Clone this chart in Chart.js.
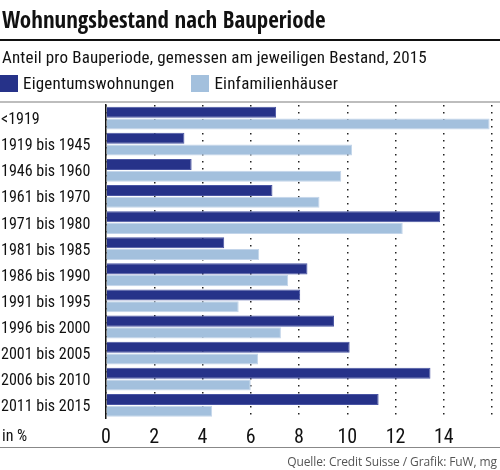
<!DOCTYPE html>
<html>
<head>
<meta charset="utf-8">
<script src="https://cdn.jsdelivr.net/npm/chart.js@4"></script>
<style>
  body { margin: 0; width: 500px; height: 470px; position: relative; background: #fff; overflow: hidden;
         font-family: "Roboto Condensed", "DejaVu Sans Condensed", sans-serif; color: #111; }
  canvas { position: absolute; left: 0; top: 0; }
  #title { position: absolute; left: 2px; top: 3px; font-family: "Open Sans Condensed", "Roboto Condensed", sans-serif;
           font-weight: bold; font-size: 23px; white-space: nowrap; }
  #rule { position: absolute; left: 0; top: 39px; width: 500px; height: 2px; background: #111; }
  #sub { position: absolute; left: 2px; top: 47px; font-size: 17px; letter-spacing: 0.15px; white-space: nowrap; }
  #legend { position: absolute; left: 0; top: 73px; font-size: 17px; letter-spacing: 0.2px; display: flex; white-space: nowrap; }
  .item { display: flex; align-items: center; margin-right: 17px; }
  .box { width: 18px; height: 17px; margin-right: 5px; }
  #foot { position: absolute; left: 0; top: 447px; width: 500px; height: 1px; background: #888; }
  #src { position: absolute; right: 3px; top: 453px; font-family: "Open Sans", sans-serif;
         font-size: 12px; letter-spacing: -0.1px; color: #555; white-space: nowrap; }
</style>
</head>
<body>
<canvas id="chart" width="500" height="470"></canvas>
<div id="title">Wohnungsbestand nach Bauperiode</div>
<div id="rule"></div>
<div id="sub">Anteil pro Bauperiode, gemessen am jeweiligen Bestand, 2015</div>
<div id="legend"></div>
<div id="foot"></div>
<div id="src">Quelle: Credit Suisse / Grafik: FuW, mg</div>
<script>
const categories = [
  '<1919', '1919 bis 1945', '1946 bis 1960', '1961 bis 1970', '1971 bis 1980', '1981 bis 1985',
  '1986 bis 1990', '1991 bis 1995', '1996 bis 2000', '2001 bis 2005', '2006 bis 2010', '2011 bis 2015'
]
const eigentumswohnungen = [7.05, 3.25, 3.55, 6.9, 13.85, 4.9, 8.35, 8.05, 9.45, 10.1, 13.45, 11.3]
const einfamilienhaeuser = [15.9, 10.2, 9.75, 8.85, 12.3, 6.35, 7.55, 5.5, 7.25, 6.3, 6.0, 4.4]
const seriesNames = ['Eigentumswohnungen', 'Einfamilienhäuser']
const xTickLabels = [0, 2, 4, 6, 8, 10, 12, 14]

const dark = '#263289'
const light = '#a3c0dd'
const font = '"Roboto Condensed", "DejaVu Sans Condensed", sans-serif'

// legend in html
const legend = document.getElementById('legend')
seriesNames.forEach((name, i) => {
  const item = document.createElement('div')
  item.className = 'item'
  item.innerHTML = '<span class="box" style="background:' + [dark, light][i] + '"></span>' + name
  legend.appendChild(item)
})

// grey line above plot + "in %" next to the ticks
const extras = {
  id: 'extras',
  beforeDraw(chart) {
    const { ctx, chartArea } = chart
    ctx.save()
    ctx.fillStyle = '#bdbdbd'
    ctx.fillRect(0, chartArea.top - 4, chart.width, 2)
    ctx.restore()
  },
  afterDraw(chart) {
    const { ctx } = chart
    const x = chart.scales.x
    ctx.save()
    ctx.font = '16px ' + font
    ctx.fillStyle = '#111'
    ctx.textBaseline = 'middle'
    ctx.fillText('in %', 2, x.top + 19)
    ctx.restore()
  }
}

new Chart(document.getElementById('chart').getContext('2d'), {
  type: 'bar',
  data: {
    labels: categories,
    datasets: [
      { label: seriesNames[0], data: eigentumswohnungen, backgroundColor: dark, borderColor: '#4a55a3', borderWidth: 1 },
      { label: seriesNames[1], data: einfamilienhaeuser, backgroundColor: light, borderColor: '#c3d5ea', borderWidth: 1 }
    ]
  },
  options: {
    indexAxis: 'y',
    responsive: false,
    animation: false,
    categoryPercentage: 0.9,
    barPercentage: 0.94,
    layout: { padding: { top: 105, left: 1, right: 0.7, bottom: 21.6 } },
    plugins: { legend: { display: false }, tooltip: { enabled: false } },
    scales: {
      x: {
        min: 0, max: 16,
        afterFit(s) { s.height = 30 },
        border: { display: false, dash: [1.5, 5.5] },
        grid: { color: '#222', lineWidth: 1.5, drawTicks: false },
        ticks: {
          stepSize: 2, padding: 8, color: '#111',
          font: { family: font, size: 20 },
          callback: v => xTickLabels.includes(v) ? v : ''
        }
      },
      y: {
        afterFit(s) { s.width = 105 },
        border: { display: true, color: '#111', width: 1.5 },
        grid: { display: false },
        ticks: { crossAlign: 'far', labelOffset: 2, color: '#111', font: { family: font, size: 16 } }
      }
    }
  },
  plugins: [extras]
})
</script>
</body>
</html>
